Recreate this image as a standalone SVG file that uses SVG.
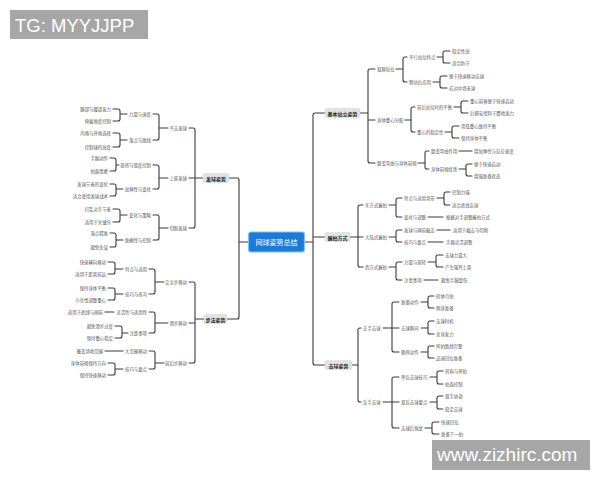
<svg xmlns="http://www.w3.org/2000/svg" width="600" height="480" viewBox="0 0 600 480">
<style>
.ln{fill:none;stroke:#3a3a3a;stroke-width:1.1;stroke-linejoin:round;stroke-linecap:round}
text{font-family:"Noto Sans CJK SC","Noto Sans",sans-serif;dominant-baseline:central}
.t{font-size:4.4px;fill:#555}
.e{text-anchor:end}
.b2 rect{fill:#e2e2e2;stroke:#d0d0d0;stroke-width:0.4}
.b2 text{font-size:5px;font-weight:bold;fill:#222;text-anchor:middle}
.wm rect{fill:#a6a6a6}
.wm text{font-family:"Liberation Sans",Arial,sans-serif;fill:#fff;dominant-baseline:auto}
</style>
<rect width="600" height="480" fill="#fff"/>

<g id="connectors" class="ln">
<path d="M249 242H239M229 178H237Q239 178 239 180V317Q239 319 237 319H227"/>
<path d="M304 242H313M325 113H315Q313 113 313 115V363Q313 365 315 365H325M313 237H325"/>
<!-- left: serve -->
<path d="M203 178H195M189 128H193Q195 128 195 130V226Q195 228 193 228H189M195 178H189"/>
<path d="M168 128H159M153 114H157Q159 114 159 116V138Q159 140 157 140H153"/>
<path d="M127 114H120M113 109H118Q120 109 120 111V119Q120 121 118 121H113"/>
<path d="M127 140H120M113 133H118Q120 133 120 135V145Q120 147 118 147H113"/>
<path d="M168 178H159M153 165H157Q159 165 159 167V187Q159 189 157 189H153"/>
<path d="M119 165H116M110 158H114Q116 158 116 160V169Q116 171 114 171H110"/>
<path d="M123 189H116M110 184H114Q116 184 116 186V194Q116 196 114 196H110"/>
<path d="M168 228H159M153 215H157Q159 215 159 217V238Q159 240 157 240H153"/>
<path d="M127 215H120M113 209H118Q120 209 120 211V220Q120 222 118 222H113"/>
<path d="M123 240H116M110 233H114Q116 233 116 235V245Q116 247 114 247H110"/>
<!-- left: footwork -->
<path d="M204 319H195M189 282H193Q195 282 195 284V361Q195 363 193 363H189M195 323H189"/>
<path d="M164 282H155M149 269H153Q155 269 155 271V292Q155 294 153 294H149"/>
<path d="M123 269H115M108 262H113Q115 262 115 264V272Q115 274 113 274H108"/>
<path d="M123 294H115M108 288H113Q115 288 115 290V298Q115 300 113 300H108"/>
<path d="M168 323H155M149 312H153Q155 312 155 314V331Q155 333 153 333H149"/>
<path d="M114 312H105"/>
<path d="M128 333H122M115 326H120Q122 326 122 328V336Q122 338 120 338H115"/>
<path d="M164 363H155M149 351H153Q155 351 155 353V367Q155 369 153 369H149"/>
<path d="M123 351H105"/>
<path d="M123 369H115M108 363H113Q115 363 115 365V373Q115 375 113 375H108"/>
<!-- right: stance -->
<path d="M360 113H368M375 69H370Q368 69 368 71V161Q368 163 370 163H375M368 120H375"/>
<path d="M396 69H403M407 57H405Q403 57 403 59V80Q403 82 405 82H407"/>
<path d="M437 57H443M450 51H445Q443 51 443 53V61Q443 63 445 63H450"/>
<path d="M433 82H440M447 76H442Q440 76 440 78V86Q440 88 442 88H447"/>
<path d="M405 120H411M415 107H413Q411 107 411 109V130Q411 132 413 132H415"/>
<path d="M454 107H461M468 101H463Q461 101 461 103V111Q461 113 463 113H468"/>
<path d="M445 132H452M459 126H454Q452 126 452 128V136Q452 138 454 138H459"/>
<path d="M418 163H425M429 151H427Q425 151 425 153V167Q425 169 427 169H429"/>
<path d="M459 151H472"/>
<path d="M459 169H466M472 164H468Q466 164 466 166V174Q466 176 468 176H472"/>
<!-- right: grip -->
<path d="M350 237H358M363 205H360Q358 205 358 207V265Q358 267 360 267H363M358 237H363"/>
<path d="M389 205H396M402 198H398Q396 198 396 200V215Q396 217 398 217H402"/>
<path d="M437 198H444M450 192H446Q444 192 444 194V203Q444 205 446 205H450"/>
<path d="M428 217H443"/>
<path d="M389 237H396M402 230H398Q396 230 396 232V240Q396 242 398 242H402"/>
<path d="M437 230H450"/>
<path d="M428 242H443"/>
<path d="M389 267H396M402 262H398Q396 262 396 264V278Q396 280 398 280H402"/>
<path d="M428 262H436M443 255H438Q436 255 436 257V265Q436 267 438 267H443"/>
<path d="M424 280H438"/>
<!-- right: strokes -->
<path d="M352 365H358M361 328H360Q358 328 358 330V400Q358 402 360 402H361"/>
<path d="M383 328H392M399 302H394Q392 302 392 304V350Q392 352 394 352H399M392 328H399"/>
<path d="M421 302H428M434 296H430Q428 296 428 298V306Q428 308 430 308H434"/>
<path d="M421 328H428M434 321H430Q428 321 428 323V332Q428 334 430 334H434"/>
<path d="M421 352H428M434 346H430Q428 346 428 348V356Q428 358 430 358H434"/>
<path d="M383 402H392M399 377H394Q392 377 392 379V426Q392 428 394 428H399M392 402H399"/>
<path d="M430 377H437M443 371H439Q437 371 437 373V382Q437 384 439 384H443"/>
<path d="M430 402H437M443 396H439Q437 396 437 398V407Q437 409 439 409H443"/>
<path d="M425 428H432M439 422H434Q432 422 432 424V432Q432 434 434 434H439"/>
</g>

<g id="root">
<rect x="248.5" y="232" width="56" height="20" rx="2.5" fill="#1b7bd6" stroke="#86c0f2" stroke-width="1.2"/>
<text x="276.5" y="242" font-size="7" fill="#fff" text-anchor="middle">网球姿势总结</text>
</g>

<g id="n-serve" class="b2"><rect x="203" y="173.5" width="26" height="9" rx="1.5"/><text x="216" y="178">发球姿势</text></g>
<g id="n-foot" class="b2"><rect x="204" y="314.5" width="23" height="9" rx="1.5"/><text x="215.5" y="319">步法姿势</text></g>
<g id="n-stance" class="b2"><rect x="325" y="108.5" width="35" height="9" rx="1.5"/><text x="342.5" y="113">基本站立姿势</text></g>
<g id="n-grip" class="b2"><rect x="325" y="232.5" width="25" height="9" rx="1.5"/><text x="337.5" y="237">握拍方式</text></g>
<g id="n-stroke" class="b2"><rect x="325" y="360.5" width="27" height="9" rx="1.5"/><text x="338.5" y="365">击球姿势</text></g>

<!-- left serve subtree -->
<g id="n-flat" class="t e"><text x="187" y="128">平击发球</text></g>
<g id="n-flat-1" class="t e"><text x="151" y="114">力量与速度</text></g>
<g id="n-flat-1a" class="t e"><text x="111" y="109">腿部与腰部发力</text></g>
<g id="n-flat-1b" class="t e"><text x="111" y="121">伸展角度控制</text></g>
<g id="n-flat-2" class="t e"><text x="151" y="140">落点与路线</text></g>
<g id="n-flat-2a" class="t e"><text x="111" y="133">内角与外角选择</text></g>
<g id="n-flat-2b" class="t e"><text x="111" y="147">控制球的高度</text></g>
<g id="n-top" class="t e"><text x="187" y="178">上旋发球</text></g>
<g id="n-top-1" class="t e"><text x="151" y="165">旋转与弧度控制</text></g>
<g id="n-top-1a" class="t e"><text x="108" y="158">手腕动作</text></g>
<g id="n-top-1b" class="t e"><text x="108" y="171">拍面摩擦</text></g>
<g id="n-top-2" class="t e"><text x="151" y="189">高弹性与变化</text></g>
<g id="n-top-2a" class="t e"><text x="108" y="184">发球节奏的变化</text></g>
<g id="n-top-2b" class="t e"><text x="108" y="196">适合使用发球战术</text></g>
<g id="n-slice" class="t e"><text x="187" y="228">切削发球</text></g>
<g id="n-slice-1" class="t e"><text x="151" y="215">变化与策略</text></g>
<g id="n-slice-1a" class="t e"><text x="111" y="209">打乱对手节奏</text></g>
<g id="n-slice-1b" class="t e"><text x="111" y="222">适用于关键分</text></g>
<g id="n-slice-2" class="t e"><text x="151" y="240">准确性与控制</text></g>
<g id="n-slice-2a" class="t e"><text x="108" y="233">落点精准</text></g>
<g id="n-slice-2b" class="t e"><text x="108" y="247">避免失误</text></g>

<!-- left footwork subtree -->
<g id="n-cross" class="t e"><text x="187" y="282">交叉步移动</text></g>
<g id="n-cross-1" class="t e"><text x="147" y="269">特点与适用</text></g>
<g id="n-cross-1a" class="t e"><text x="106" y="262">快速横向移动</text></g>
<g id="n-cross-1b" class="t e"><text x="106" y="274">适用于距离较远</text></g>
<g id="n-cross-2" class="t e"><text x="147" y="294">技巧与练习</text></g>
<g id="n-cross-2a" class="t e"><text x="106" y="288">保持身体平衡</text></g>
<g id="n-cross-2b" class="t e"><text x="106" y="300">小步伐调整重心</text></g>
<g id="n-slide" class="t e"><text x="187" y="323">滑步移动</text></g>
<g id="n-slide-1" class="t e"><text x="147" y="312">灵活性与适用性</text></g>
<g id="n-slide-1a" class="t e"><text x="103" y="312">适用于底线与网前</text></g>
<g id="n-slide-2" class="t e"><text x="147" y="333">注意事项</text></g>
<g id="n-slide-2a" class="t e"><text x="113" y="326">避免滑步过度</text></g>
<g id="n-slide-2b" class="t e"><text x="113" y="338">保持重心稳定</text></g>
<g id="n-fb" class="t e"><text x="187" y="363">前后步移动</text></g>
<g id="n-fb-1" class="t e"><text x="147" y="351">大范围移动</text></g>
<g id="n-fb-1a" class="t e"><text x="103" y="351">覆盖场地范围</text></g>
<g id="n-fb-2" class="t e"><text x="147" y="369">技巧与要点</text></g>
<g id="n-fb-2a" class="t e"><text x="106" y="363">身体前倾保持方向</text></g>
<g id="n-fb-2b" class="t e"><text x="106" y="375">保持快速移动</text></g>

<!-- right stance subtree -->
<g id="n-feet" class="t"><text x="377" y="69">双脚站位</text></g>
<g id="n-feet-1" class="t"><text x="409" y="57">平行站位特点</text></g>
<g id="n-feet-1a" class="t"><text x="452" y="51">稳定性高</text></g>
<g id="n-feet-1b" class="t"><text x="452" y="63">适合防守</text></g>
<g id="n-feet-2" class="t"><text x="409" y="82">侧站位应用</text></g>
<g id="n-feet-2a" class="t"><text x="449" y="76">便于快速移动击球</text></g>
<g id="n-feet-2b" class="t"><text x="449" y="88">应对中场来球</text></g>
<g id="n-cog" class="t"><text x="377" y="120">身体重心分配</text></g>
<g id="n-cog-1" class="t"><text x="417" y="107">前后站位时的平衡</text></g>
<g id="n-cog-1a" class="t"><text x="470" y="101">重心前移便于快速启动</text></g>
<g id="n-cog-1b" class="t"><text x="470" y="113">后脚支撑利于蹬地发力</text></g>
<g id="n-cog-2" class="t"><text x="417" y="132">重心的稳定性</text></g>
<g id="n-cog-2a" class="t"><text x="461" y="126">用低重心维持平衡</text></g>
<g id="n-cog-2b" class="t"><text x="461" y="138">保持身体平衡</text></g>
<g id="n-knee" class="t"><text x="377" y="163">膝盖弯曲与身体前倾</text></g>
<g id="n-knee-1" class="t"><text x="431" y="151">膝盖弯曲作用</text></g>
<g id="n-knee-1a" class="t"><text x="474" y="151">增加弹性与反应速度</text></g>
<g id="n-knee-2" class="t"><text x="431" y="169">身体前倾优势</text></g>
<g id="n-knee-2a" class="t"><text x="474" y="164">便于快速启动</text></g>
<g id="n-knee-2b" class="t"><text x="474" y="176">增强准备状态</text></g>

<!-- right grip subtree -->
<g id="n-east" class="t"><text x="365" y="205">东方式握拍</text></g>
<g id="n-east-1" class="t"><text x="404" y="198">特点与适用场景</text></g>
<g id="n-east-1a" class="t"><text x="452" y="192">控制力强</text></g>
<g id="n-east-1b" class="t"><text x="452" y="205">适合底线击球</text></g>
<g id="n-east-2" class="t"><text x="404" y="217">变化与调整</text></g>
<g id="n-east-2a" class="t"><text x="446" y="217">根据对手调整握拍方式</text></g>
<g id="n-cont" class="t"><text x="365" y="237">大陆式握拍</text></g>
<g id="n-cont-1" class="t"><text x="404" y="230">发球与网前截击</text></g>
<g id="n-cont-1a" class="t"><text x="453" y="230">适用于截击与切削</text></g>
<g id="n-cont-2" class="t"><text x="404" y="242">技巧与要点</text></g>
<g id="n-cont-2a" class="t"><text x="446" y="242">手腕灵活调整</text></g>
<g id="n-west" class="t"><text x="365" y="267">西方式握拍</text></g>
<g id="n-west-1" class="t"><text x="404" y="262">力量与旋转</text></g>
<g id="n-west-1a" class="t"><text x="445" y="255">击球力量大</text></g>
<g id="n-west-1b" class="t"><text x="445" y="267">产生强烈上旋</text></g>
<g id="n-west-2" class="t"><text x="404" y="280">注意事项</text></g>
<g id="n-west-2a" class="t"><text x="441" y="280">避免手腕受伤</text></g>

<!-- right stroke subtree -->
<g id="n-fh" class="t"><text x="363" y="328">正手击球</text></g>
<g id="n-fh-1" class="t"><text x="401" y="302">准备动作</text></g>
<g id="n-fh-1a" class="t"><text x="436" y="296">转体引拍</text></g>
<g id="n-fh-1b" class="t"><text x="436" y="308">侧身准备</text></g>
<g id="n-fh-2" class="t"><text x="401" y="328">击球瞬间</text></g>
<g id="n-fh-2a" class="t"><text x="436" y="321">击球时机</text></g>
<g id="n-fh-2b" class="t"><text x="436" y="334">全身发力</text></g>
<g id="n-fh-3" class="t"><text x="401" y="352">随挥动作</text></g>
<g id="n-fh-3a" class="t"><text x="436" y="346">挥拍路线完整</text></g>
<g id="n-fh-3b" class="t"><text x="436" y="358">迅速回位准备</text></g>
<g id="n-bh" class="t"><text x="363" y="402">反手击球</text></g>
<g id="n-bh-1" class="t"><text x="401" y="377">单反击球技巧</text></g>
<g id="n-bh-1a" class="t"><text x="445" y="371">转肩与挥拍</text></g>
<g id="n-bh-1b" class="t"><text x="445" y="384">拍面控制</text></g>
<g id="n-bh-2" class="t"><text x="401" y="402">双反击球要点</text></g>
<g id="n-bh-2a" class="t"><text x="445" y="396">双手协调</text></g>
<g id="n-bh-2b" class="t"><text x="445" y="409">稳定击球</text></g>
<g id="n-bh-3" class="t"><text x="401" y="428">击球后恢复</text></g>
<g id="n-bh-3a" class="t"><text x="441" y="422">快速回位</text></g>
<g id="n-bh-3b" class="t"><text x="441" y="434">准备下一拍</text></g>

<g id="wm-tg" class="wm"><rect x="10" y="10" width="138" height="29"/><text x="15" y="32" font-size="18.5">TG: MYYJJPP</text></g>
<g id="wm-url" class="wm"><rect x="432" y="440" width="158" height="30"/><text x="437" y="461" font-size="19">www.zizhirc.com</text></g>
</svg>
